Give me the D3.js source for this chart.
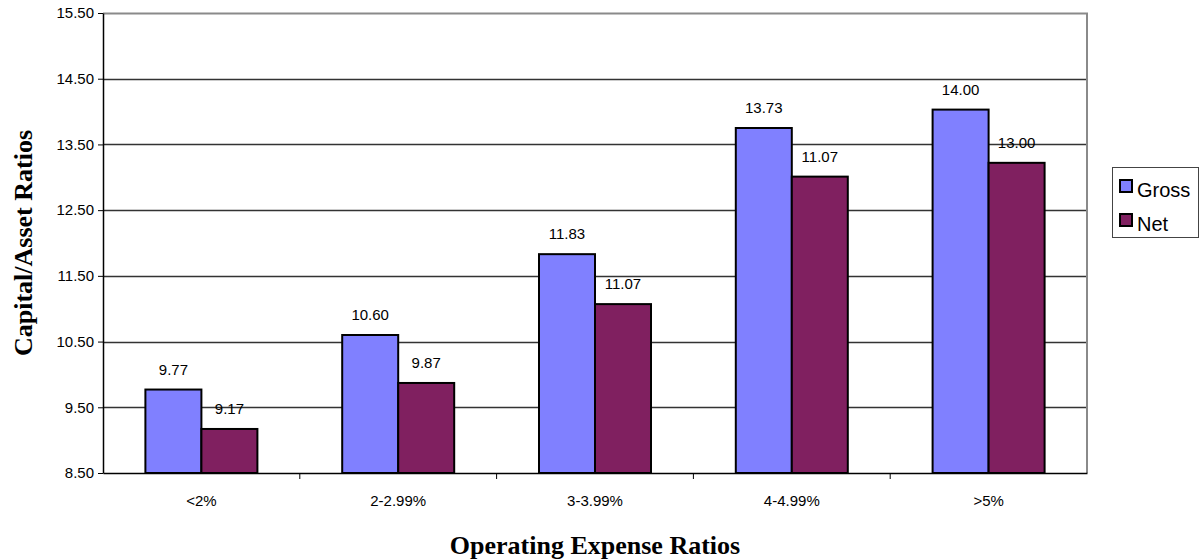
<!DOCTYPE html>
<html><head><meta charset="utf-8">
<script src="https://cdn.jsdelivr.net/npm/d3@7"></script>
<style>html,body{margin:0;padding:0;background:#fff;}svg{display:block;}</style>
</head><body>
<svg id="chart" width="1202" height="560"></svg>
<script>
const categories = ["<2%", "2-2.99%", "3-3.99%", "4-4.99%", ">5%"];
const seriesNames = ["Gross", "Net"];
const grossValues = [9.77, 10.60, 11.83, 13.75, 14.03];
const netValues = [9.17, 9.87, 11.07, 13.01, 13.22];
const grossLabels = ["9.77", "10.60", "11.83", "13.73", "14.00"];
const netLabels = ["9.17", "9.87", "11.07", "11.07", "13.00"];
const yTicks = [8.5, 9.5, 10.5, 11.5, 12.5, 13.5, 14.5, 15.5];
const colors = ["#8080FF", "#802060"];

const svg = d3.select("#chart");
const L = 103, R = 1087, T = 13, B = 473;
const x = d3.scaleBand().domain(categories).range([L, R]).paddingInner(0).paddingOuter(0);
const xs = d3.scaleBand().domain(seriesNames).range([0, 112]);
const y = d3.scaleLinear().domain([8.5, 15.5]).range([B, T]);

// gridlines
svg.append("g").selectAll("line").data(yTicks.slice(1, -1)).join("line")
  .attr("x1", L).attr("x2", R).attr("y1", d => Math.round(y(d)) + 0.5).attr("y2", d => Math.round(y(d)) + 0.5)
  .attr("stroke", "#333").attr("stroke-width", 1.3);

// plot border top/right
svg.append("path").attr("d", `M${L},${T + 0.5}H${R}V${B}`).attr("fill", "none").attr("stroke", "#8a8a8a").attr("stroke-width", 2);

// bars
const groups = categories.map((c, i) => ({c, vals: [grossValues[i], netValues[i]], labs: [grossLabels[i], netLabels[i]]}));
const offset = (x.bandwidth() - 112) / 2;
groups.forEach(g => {
  g.vals.forEach((v, j) => {
    const bx = x(g.c) + offset + xs(seriesNames[j]);
    svg.append("rect").attr("x", bx).attr("y", y(v)).attr("width", xs.bandwidth()).attr("height", B - y(v))
      .attr("fill", colors[j]).attr("stroke", "#000").attr("stroke-width", 2);
    svg.append("text").attr("x", bx + xs.bandwidth() / 2).attr("y", y(v) - 15)
      .attr("text-anchor", "middle").attr("font-family", "Liberation Sans, Arial, sans-serif").attr("font-size", 15)
      .attr("fill", "#000").text(g.labs[j]);
  });
});

// y axis
const yAxis = d3.axisLeft(y).tickValues(yTicks).tickFormat(d3.format(".2f")).tickSize(5).tickSizeOuter(0);
const ya = svg.append("g").attr("transform", `translate(${L},0)`).call(yAxis);
ya.select(".domain").attr("stroke", "#000").attr("stroke-width", 1.5);
ya.selectAll(".tick line").attr("stroke", "#000");
ya.selectAll("text").attr("font-family", "Liberation Sans, Arial, sans-serif").attr("font-size", 15).attr("fill", "#000").attr("x", -9);

// x axis
const xa = svg.append("g").attr("transform", `translate(0,${B})`).call(d3.axisBottom(x).tickSize(0).tickSizeOuter(0));
xa.select(".domain").attr("stroke", "#000").attr("stroke-width", 1.5);
xa.selectAll("text").attr("font-family", "Liberation Sans, Arial, sans-serif").attr("font-size", 15).attr("fill", "#000").attr("dy", 0).attr("y", 33);
// category separator ticks
svg.append("g").selectAll("line").data(categories.slice(1)).join("line")
  .attr("x1", d => x(d)).attr("x2", d => x(d)).attr("y1", B).attr("y2", B + 6).attr("stroke", "#000").attr("stroke-width", 1);

// axis titles
svg.append("text").attr("transform", `translate(32,${(T + B) / 2}) rotate(-90)`).attr("text-anchor", "middle")
  .attr("font-family", "Liberation Serif, Times New Roman, serif").attr("font-weight", "bold").attr("font-size", 26)
  .text("Capital/Asset Ratios");
svg.append("text").attr("x", (L + R) / 2).attr("y", 554).attr("text-anchor", "middle")
  .attr("font-family", "Liberation Serif, Times New Roman, serif").attr("font-weight", "bold").attr("font-size", 26)
  .text("Operating Expense Ratios");

// legend
const lg = svg.append("g");
lg.append("rect").attr("x", 1112.5).attr("y", 167.5).attr("width", 86).attr("height", 70).attr("fill", "#fff").attr("stroke", "#444").attr("stroke-width", 1);
seriesNames.forEach((s, i) => {
  const yy = 180 + i * 34;
  lg.append("rect").attr("x", 1120).attr("y", yy).attr("width", 12).attr("height", 12).attr("fill", colors[i]).attr("stroke", "#000").attr("stroke-width", 2);
  lg.append("text").attr("x", 1137).attr("y", yy + 17).attr("font-family", "Liberation Sans, Arial, sans-serif").attr("font-size", 20).text(s);
});
</script>
</body></html>
